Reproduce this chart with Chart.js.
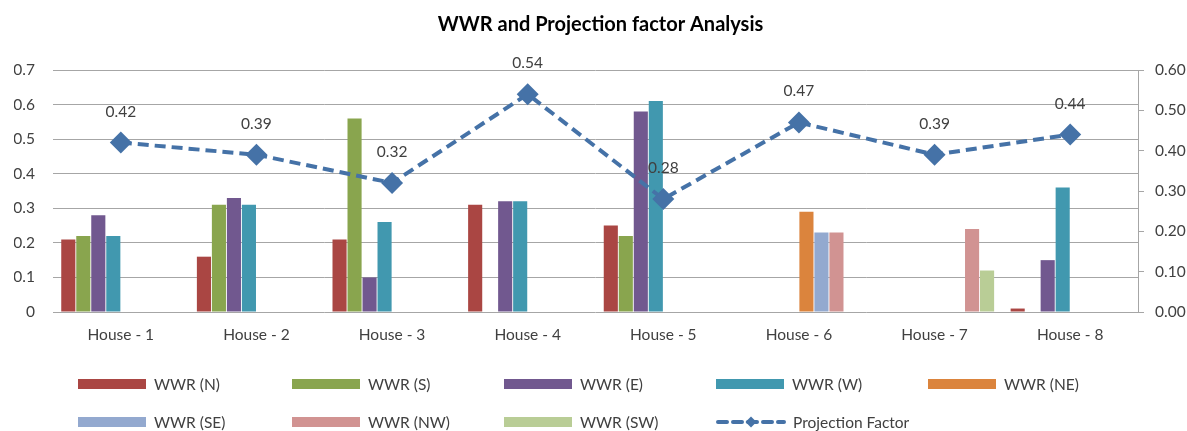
<!DOCTYPE html>
<html>
<head>
<meta charset="utf-8">
<script src="https://cdn.jsdelivr.net/npm/chart.js@4/dist/chart.umd.min.js"></script>
<style>
  html, body { margin: 0; padding: 0; background: #fff; }
  #wrap { position: relative; width: 1187px; height: 431px; }
  .lg { position: absolute; display: flex; align-items: center; font: 15.5px Lato, sans-serif; color: #404040; white-space: nowrap; }
  .lg .box { width: 68px; height: 10px; margin-right: 8px; }
  .lg svg { margin-right: 7px; }
</style>
</head>
<body>
<div id="wrap">
  <canvas id="myChart"></canvas>
  <div id="legend"></div>
</div>
<script>
const categories = ['House - 1', 'House - 2', 'House - 3', 'House - 4', 'House - 5', 'House - 6', 'House - 7', 'House - 8'];

const wwrN  = [0.21, 0.16, 0.21, 0.31, 0.25, null, null, 0.01];
const wwrS  = [0.22, 0.31, 0.56, null, 0.22, null, null, null];
const wwrE  = [0.28, 0.33, 0.10, 0.32, 0.58, null, null, 0.15];
const wwrW  = [0.22, 0.31, 0.26, 0.32, 0.61, null, null, 0.36];
const wwrNE = [null, null, null, null, null, 0.29, null, null];
const wwrSE = [null, null, null, null, null, 0.23, null, null];
const wwrNW = [null, null, null, null, null, 0.23, 0.24, null];
const wwrSW = [null, null, null, null, null, null, 0.12, null];

const projectionFactor = [0.42, 0.39, 0.32, 0.54, 0.28, 0.47, 0.39, 0.44];

const leftTicks = { min: 0, max: 0.7, step: 0.1 };
const rightTicks = { min: 0, max: 0.6, step: 0.1 };

const barSeries = [
    { label: 'WWR (N)',  data: wwrN,  color: '#AA4643' },
    { label: 'WWR (S)',  data: wwrS,  color: '#89A54E' },
    { label: 'WWR (E)',  data: wwrE,  color: '#71588F' },
    { label: 'WWR (W)',  data: wwrW,  color: '#4198AF' },
    { label: 'WWR (NE)', data: wwrNE, color: '#DB843D' },
    { label: 'WWR (SE)', data: wwrSE, color: '#93A9CF' },
    { label: 'WWR (NW)', data: wwrNW, color: '#D19392' },
    { label: 'WWR (SW)', data: wwrSW, color: '#B9CD96' },
];
const lineColor = '#4572A7';
const gridColor = '#A6A6A6';
const textColor = '#404040';
const fontFamily = 'Lato';

// labels above the line points
const pointLabels = {
    id: 'pointLabels',
    afterDatasetsDraw(chart) {
        const meta = chart.getDatasetMeta(0);
        const c = chart.ctx;
        c.save();
        c.font = '15.5px ' + fontFamily + ', sans-serif';
        c.fillStyle = textColor;
        c.textAlign = 'center';
        c.textBaseline = 'middle';
        meta.data.forEach((pt, i) => {
            c.fillText(projectionFactor[i].toFixed(2), pt.x, pt.y - 31);
        });
        c.restore();
    }
};

const datasets = [{
    type: 'line',
    label: 'Projection Factor',
    data: projectionFactor,
    yAxisID: 'y1',
    order: 0,
    borderColor: lineColor,
    backgroundColor: lineColor,
    borderWidth: 4,
    borderDash: [11, 6],
    pointStyle: 'rectRot',
    pointRadius: 11,
    pointHoverRadius: 11,
    pointBorderWidth: 0,
    tension: 0,
}];
barSeries.forEach(s => {
    datasets.push({
        type: 'bar',
        label: s.label,
        data: s.data,
        yAxisID: 'y',
        order: 1,
        backgroundColor: s.color,
        borderWidth: 0,
        categoryPercentage: 0.885,
        barPercentage: 0.94,
    });
});

const ctx = document.getElementById('myChart');

const config = {
    data: { labels: categories, datasets: datasets },
    options: {
        responsive: true,
        maintainAspectRatio: false,
        animation: false,
        layout: { padding: { top: 0, bottom: 71, left: 14, right: 0 } },
        scales: {
            x: {
                grid: { display: false, drawTicks: false },
                border: { display: false },
                ticks: { color: textColor, font: { family: fontFamily, size: 15.5 }, padding: 14, maxRotation: 0 },
                afterFit: s => { s.height = 48; },
            },
            y: {
                position: 'left',
                min: leftTicks.min,
                max: leftTicks.max,
                ticks: { stepSize: leftTicks.step, color: textColor, font: { family: fontFamily, size: 15.5 }, padding: 18 },
                grid: { color: gridColor, drawTicks: false },
                border: { display: false },
                afterFit: s => { s.width = 39; },
            },
            y1: {
                position: 'right',
                min: rightTicks.min,
                max: rightTicks.max,
                ticks: {
                    stepSize: rightTicks.step, color: textColor, font: { family: fontFamily, size: 15.5 }, padding: 11,
                    callback: v => Number(v).toFixed(2),
                },
                grid: { drawOnChartArea: false, drawTicks: true, tickLength: 6, color: gridColor },
                border: { display: true, color: gridColor },
                afterFit: s => { s.width = 49; },
            }
        },
        plugins: {
            legend: { display: false },
            tooltip: { enabled: false },
            title: {
                display: true,
                text: 'WWR and Projection factor Analysis',
                color: '#000',
                font: { family: fontFamily, size: 20, weight: 'bold' },
                padding: { top: 12.5, bottom: 33.5 },
            },
        },
    },
    plugins: [pointLabels],
};

const myChart = new Chart(ctx, config);

// legend laid out like the Excel one (5 columns, 2 rows)
const legendCols = [79, 293, 505, 717, 929];
const legendRows = [384, 422];
const legendItems = barSeries.map(s => ({ label: s.label, color: s.color, line: false }));
legendItems.push({ label: 'Projection Factor', color: lineColor, line: true });

const legendEl = document.getElementById('legend');
legendItems.forEach((item, i) => {
    const d = document.createElement('div');
    d.className = 'lg';
    d.style.left = (legendCols[i % 5] - 1) + 'px';
    d.style.top = (legendRows[Math.floor(i / 5)] - 10) + 'px';
    d.style.height = '20px';
    if (item.line) {
        d.innerHTML = '<svg width="70" height="14"><line x1="2" y1="7" x2="68" y2="7" stroke="' + item.color +
            '" stroke-width="4" stroke-dasharray="9,6" stroke-linecap="round"/>' +
            '<polygon points="35,1.5 40.5,7 35,12.5 29.5,7" fill="' + item.color + '"/></svg><span>' + item.label + '</span>';
    } else {
        d.innerHTML = '<div class="box" style="background:' + item.color + '"></div><span>' + item.label + '</span>';
    }
    legendEl.appendChild(d);
});
</script>
</body>
</html>
